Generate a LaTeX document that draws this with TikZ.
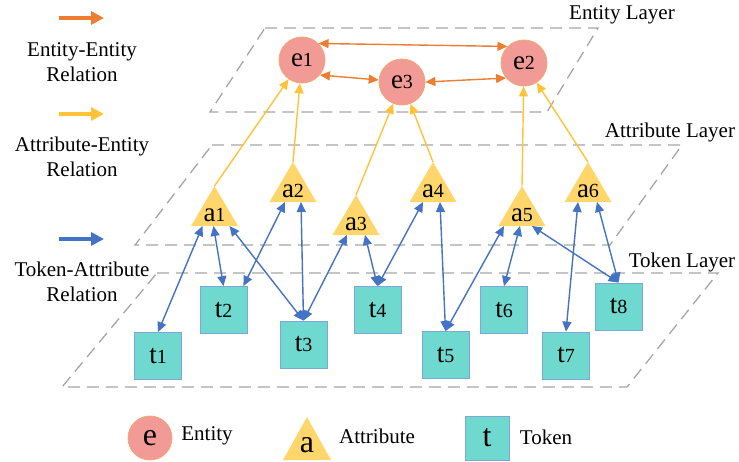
\documentclass[tikz,border=0pt]{standalone}
\usepackage{fontspec}
\setmainfont{Liberation Serif}
\usetikzlibrary{arrows.meta}
\definecolor{entfill}{HTML}{F19A96}
\definecolor{entline}{HTML}{F4A672}
\definecolor{tokfill}{HTML}{6FD9CF}
\definecolor{tokline}{HTML}{7EA6D6}
\definecolor{attrfill}{HTML}{FFD66B}
\definecolor{orangec}{HTML}{ED7D31}
\definecolor{yellowc}{HTML}{FFC33A}
\definecolor{bluec}{HTML}{4472C4}
\definecolor{layerc}{HTML}{A6A6A6}
\newcommand\dg[1]{{\fontsize{20}{20}\selectfont #1}}
\newcommand\attrnode[4]{%
  \fill[attrfill] (#2-23.5,#3) -- (#2,#3-40) -- (#2+23.5,#3) -- cycle;
  \coordinate (#1t) at (#2,#3-40);
  \coordinate (#1b) at (#2,#3);
  \node[attrlbl] (#1) at (#2,#3-4.5) {#4};
}
\tikzset{
  ent/.style={circle, fill=entfill, draw=entline, line width=0.8pt, minimum size=46pt, inner sep=0pt, font=\fontsize{27}{27}\selectfont},
  tok/.style={rectangle, fill=tokfill, draw=tokline, line width=0.8pt, minimum size=47pt, inner sep=0pt, font=\fontsize{27}{27}\selectfont},
  attrlbl/.style={anchor=base, inner sep=0pt, font=\fontsize{27}{27}\selectfont},
  layer/.style={draw=layerc, line width=1.3pt, dash pattern=on 12pt off 7pt},
  txt/.style={align=center, inner sep=0pt, font=\fontsize{21}{25}\selectfont},
  eearr/.style={draw=orangec, line width=1.4pt, {Triangle[length=10pt,width=9pt]}-{Triangle[length=10pt,width=9pt]}},
  aearr/.style={draw=yellowc, line width=1.4pt, -{Triangle[length=10pt,width=9pt]}},
  taarr/.style={draw=bluec, line width=1.4pt, {Triangle[length=10pt,width=9pt]}-{Triangle[length=10pt,width=9pt]}},
  legarr/.style={line width=3.2pt, -{Triangle[length=13pt,width=13pt]}}
}
\begin{document}
\begin{tikzpicture}[x=1pt,y=-1pt]
\useasboundingbox (0,0) rectangle (739,461);
% layers
\draw[layer] (265,28) -- (598,28) -- (547,112) -- (210,112) -- cycle;
\draw[layer] (212,145) -- (682,145) -- (610,245) -- (135,245) -- cycle;
\draw[layer] (157,273) -- (718,273) -- (627,387) -- (62,387) -- cycle;
\node[txt] (lEL) at (622,15) {Entity Layer};
\node[txt] (lAL) at (670,132) {Attribute Layer};
\node[txt] (lTL) at (682,262) {Token Layer};
% legend arrows
\coordinate (l1a) at (59,18); \coordinate (l1b) at (104,18);
\coordinate (l2a) at (59,114); \coordinate (l2b) at (104,114);
\coordinate (l3a) at (59,239); \coordinate (l3b) at (104,239);
\draw[legarr, orangec] (l1a) -- (l1b);
\draw[legarr, yellowc] (l2a) -- (l2b);
\draw[legarr, bluec] (l3a) -- (l3b);
\node[txt] (t1l) at (82,62) {Entity-Entity\\Relation};
\node[txt] (t2l) at (82,157) {Attribute-Entity\\Relation};
\node[txt] (t3l) at (82,282) {Token-Attribute\\Relation};
% entities
\node[ent] (e1) at (302,60) {e\dg{1}};
\node[ent] (e3) at (402,82) {e\dg{3}};
\node[ent] (e2) at (524,63) {e\dg{2}};
% attributes
\attrnode{a1}{214.5}{226}{a\dg{1}}
\attrnode{a2}{293}{202}{a\dg{2}}
\attrnode{a3}{356}{235}{a\dg{3}}
\attrnode{a4}{433}{202}{a\dg{4}}
\attrnode{a5}{522}{226}{a\dg{5}}
\attrnode{a6}{588}{202}{a\dg{6}}
% tokens
\node[tok] (t1) at (158,356) {t\dg{1}};
\node[tok] (t2) at (223.5,310) {t\dg{2}};
\node[tok] (t3) at (303.5,344.5) {t\dg{3}};
\node[tok] (t4) at (377.5,310) {t\dg{4}};
\node[tok] (t5) at (445.5,355) {t\dg{5}};
\node[tok] (t6) at (504,310) {t\dg{6}};
\node[tok] (t7) at (566,355.5) {t\dg{7}};
\node[tok] (t8) at (618.5,306.5) {t\dg{8}};
% entity-entity
\draw[eearr] (e1.45) -- (e2.135);
\draw[eearr] (e1.-40) -- (e3.175);
\draw[eearr] (e3.0) -- (e2.220);
% attribute-entity
\draw[aearr] (a1t) -- (e1);
\draw[aearr] (a2t) -- (e1);
\draw[aearr] (a3t) -- (e3);
\draw[aearr] (a4t) -- (e3);
\draw[aearr] (a5t) -- (e2);
\draw[aearr] (a6t) -- (e2);
% token-attribute
\draw[taarr] ([xshift=-12pt]a1b) -- (t1.north);
\draw[taarr] ([xshift=-1pt]a1b) -- (t2.north);
\draw[taarr] ([xshift=15pt]a1b) -- (t3.north);
\draw[taarr] ([xshift=-8pt]a2b) -- ([xshift=-4pt]t2.north east);
\draw[taarr] ([xshift=8pt]a2b) -- (t3.north);
\draw[taarr] ([xshift=-9pt]a3b) -- (t3.north);
\draw[taarr] ([xshift=9pt]a3b) -- (t4.north);
\draw[taarr] ([xshift=-10pt]a4b) -- (t4.north);
\draw[taarr] ([xshift=7pt]a4b) -- (t5.north);
\draw[taarr] ([xshift=-18pt]a5b) -- (t5.north);
\draw[taarr] ([xshift=-2pt]a5b) -- (t6.north);
\draw[taarr] ([xshift=10pt]a5b) -- (t8.north);
\draw[taarr] ([xshift=-10pt]a6b) -- (t7.north);
\draw[taarr] ([xshift=9pt]a6b) -- (t8.north);
% legend shapes
\node[ent, minimum size=44pt, font=\fontsize{32}{32}\selectfont] (le) at (150,438) {e};
\node[txt] (lent) at (207,436) {Entity};
\fill[attrfill] (283,460) -- (307,417) -- (331,460) -- cycle;
\node[attrlbl, font=\fontsize{32}{32}\selectfont] (la) at (307,452) {a};
\node[txt] (lattr) at (377,436) {Attribute};
\node[tok, minimum size=44pt, font=\fontsize{32}{32}\selectfont] (lt) at (487,438) {t};
\node[txt] (ltok) at (546,437) {Token};
\end{tikzpicture}
\end{document}
